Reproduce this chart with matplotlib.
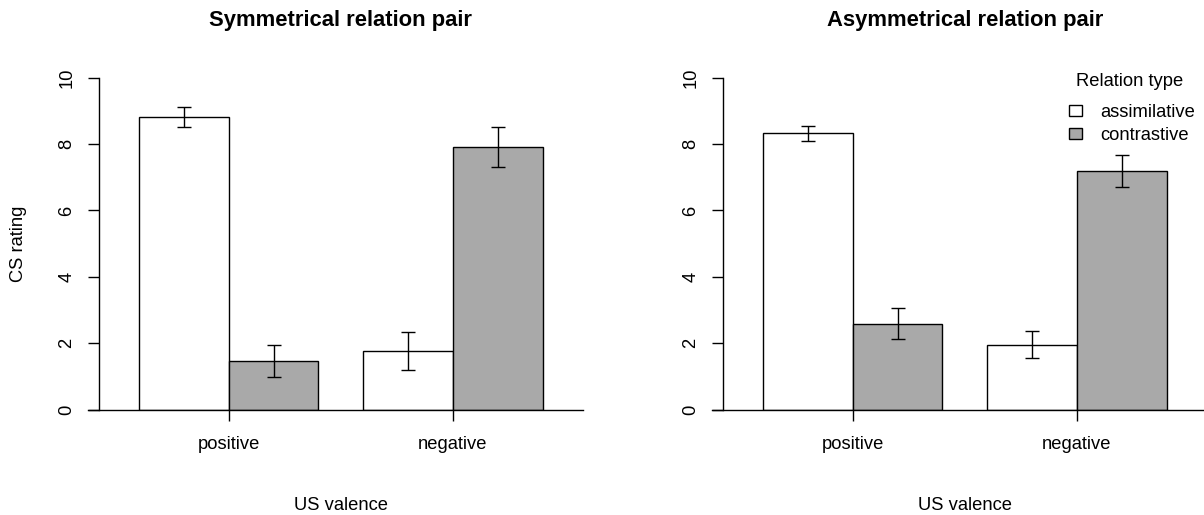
import numpy as np
import matplotlib
matplotlib.use("Agg")
import matplotlib.pyplot as plt
from matplotlib.patches import Patch

plt.rcParams['font.family'] = ['Liberation Sans', 'DejaVu Sans']

# data
valence = ["positive", "negative"]
relation_types = ["assimilative", "contrastive"]
panel_titles = ["Symmetrical relation pair", "Asymmetrical relation pair"]

sym_assim = [8.83, 1.77]
sym_assim_err = [0.30, 0.57]
sym_contr = [1.46, 7.90]
sym_contr_err = [0.48, 0.60]

asym_assim = [8.32, 1.96]
asym_assim_err = [0.24, 0.41]
asym_contr = [2.59, 7.19]
asym_contr_err = [0.47, 0.47]

W, H = 1204, 515
FS = 13.2
fig = plt.figure(figsize=(W / 100, H / 100), dpi=100)

# pixel layout of the plot area (same for both panels, right one shifted)
ax_left, ax_w, ax_bottom, ax_top = 87.7, 495.0, 409.7, 77.7
shift = 624.0

panels = [
    (sym_assim, sym_assim_err, sym_contr, sym_contr_err),
    (asym_assim, asym_assim_err, asym_contr, asym_contr_err),
]

for i, (a, ae, c, ce) in enumerate(panels):
    l = ax_left + i * shift
    ax = fig.add_axes([l / W, (H - ax_bottom) / H, ax_w / W, (ax_bottom - ax_top) / H])
    centers = 2 + 2.5 * np.arange(len(valence))

    ax.bar(centers - 0.5, a, width=1, color='white', edgecolor='black', linewidth=1.0)
    ax.bar(centers + 0.5, c, width=1, color='darkgray', edgecolor='black', linewidth=1.0)
    ax.errorbar(centers - 0.5, a, yerr=ae, fmt='none', ecolor='black',
                elinewidth=1.0, capsize=5, capthick=1.0)
    ax.errorbar(centers + 0.5, c, yerr=ce, fmt='none', ecolor='black',
                elinewidth=1.0, capsize=5, capthick=1.0)

    ax.set_xlim(0.428, 5.946)
    ax.set_ylim(0, 10)

    for s in ['top', 'right']:
        ax.spines[s].set_visible(False)
    ax.spines['left'].set_position(('data', 0.554))
    ax.spines['left'].set_bounds(0, 10)
    ax.spines['left'].set_linewidth(1.0)
    ax.spines['bottom'].set_linewidth(1.0)

    ax.set_xticks(centers)
    ax.set_xticklabels(valence, fontsize=FS)
    ax.set_yticks(np.arange(0, 11, 2))
    ax.set_yticklabels([str(v) for v in range(0, 11, 2)], fontsize=FS,
                       rotation=90, va='center')
    ax.tick_params(axis='x', length=8.1, width=1.0, pad=10.7)
    ax.tick_params(axis='y', length=8.1, width=1.0, pad=8.9)

    ax.text(3.25, (ax_bottom - 25.6) / (ax_bottom - ax_top), panel_titles[i],
            transform=ax.get_xaxis_transform(), ha='center', va='baseline',
            fontsize=15.8, fontweight='bold')

    ax.set_xlabel("US valence", fontsize=FS, va='baseline')
    ax.xaxis.set_label_coords((340.5 - 87.7) / ax_w, -(510 - ax_bottom) / (ax_bottom - ax_top))

    if i == 0:
        ax.set_ylabel("CS rating", fontsize=FS, rotation=90, rotation_mode='anchor',
                      ha='center', va='baseline')
        ax.yaxis.set_label_coords((22.7 - 87.7) / ax_w, 0.5)
    else:
        ax.text(1129.3 / W, 1 - 85.5 / H, "Relation type", transform=fig.transFigure,
                ha='center', va='baseline', fontsize=FS)
        handles = [Patch(facecolor='white', edgecolor='black', linewidth=1.0),
                   Patch(facecolor='darkgray', edgecolor='black', linewidth=1.0)]
        ax.legend(handles, relation_types, loc='upper left', frameon=False,
                  bbox_to_anchor=(1069.3 / W, 1 - 104.2 / H),
                  bbox_transform=fig.transFigure, borderpad=0, borderaxespad=0,
                  fontsize=FS, handlelength=0.71, handleheight=0.57,
                  handletextpad=0.97, labelspacing=0.3)

fig.savefig("out.png", dpi=100)
